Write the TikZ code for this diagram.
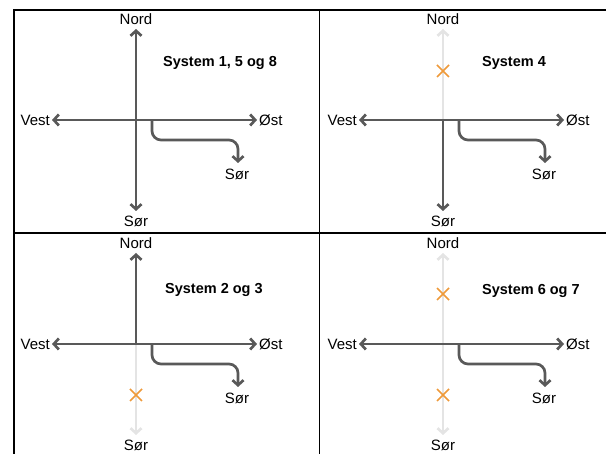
\documentclass[tikz,border=0pt]{standalone}
\usepackage{fontspec}
\setmainfont{Liberation Sans}
\usetikzlibrary{arrows.meta,calc}
\definecolor{axisdark}{HTML}{595959}
\definecolor{axislight}{HTML}{E4E4E4}
\definecolor{markorange}{HTML}{EE9A3A}
\tikzset{
  frameline/.style={line width=1.4pt, black},
  tipbarb/.tip={Straight Barb[length=5pt,width=11pt]},
  axisline/.style={line width=2.7pt, axisdark, tipbarb-tipbarb, line cap=butt},
  axisfaint/.style={line width=2.7pt, axislight},
  branchline/.style={line width=2.7pt, axisdark, rounded corners=9pt, -tipbarb},
  lbl/.style={font=\fontsize{15}{17}\selectfont, text=black, inner sep=0pt},
  ttl/.style={font=\fontsize{14.5}{16}\selectfont\bfseries, text=black, inner sep=0pt, anchor=west},
  xmark/.style={line width=1.5pt, markorange},
}
% one compass: #1 = name prefix
\newcommand\compassaxes[1]{%
  \coordinate (#1N) at (136,29);
  \coordinate (#1S) at (136,211);
  \coordinate (#1W) at (52,120);
  \coordinate (#1E) at (257,120);
  \coordinate (#1O) at (136,120);
  \coordinate (#1B) at (152,120);
  \coordinate (#1K) at (238,140);
  \coordinate (#1T) at (238,163);
  \node[lbl] (#1nord) at (136,19) {Nord};
  \node[lbl] (#1sor) at (136,221) {Sør};
  \node[lbl, anchor=east] (#1vest) at (50,120) {Vest};
  \node[lbl, anchor=west] (#1ost) at (259,120) {Øst};
  \node[lbl] (#1sorb) at (237,174) {Sør};
}
\newcommand\branch[1]{%
  \draw[branchline] (#1B) |- (#1K) -- (#1T);
}
\newcommand\xat[1]{%
  \draw[xmark] ($(#1)+(-6,-6)$) -- ($(#1)+(6,6)$) ($(#1)+(-6,6)$) -- ($(#1)+(6,-6)$);
}
\begin{document}
\begin{tikzpicture}[x=1pt,y=-1pt]
  \useasboundingbox (0,0) rectangle (606,454);
  % panel frame
  \draw[frameline] (14,454) -- (14,10) -- (606,10);
  \draw[frameline] (14,233) -- (606,233);
  \draw[frameline] (319.5,10) -- (319.5,454);

  % top left: System 1, 5 og 8
  \begin{scope}
    \compassaxes{a}
    \draw[axisline] (aN) -- (aS);
    \draw[axisline] (aW) -- (aE);
    \branch{a}
    \node[ttl] (atitle) at (163,63) {System 1, 5 og 8};
  \end{scope}

  % top right: System 4
  \begin{scope}[shift={(307,0)}]
    \compassaxes{b}
    \draw[axisfaint, -tipbarb] (bO) -- (bN);
    \draw[axisline, tipbarb-] (bS) -- (bO);
    \draw[axisline] (bW) -- (bE);
    \branch{b}
    \coordinate (bX1) at (136,71);
    \xat{bX1}
    \node[ttl] (btitle) at (175,63) {System 4};
  \end{scope}

  % bottom left: System 2 og 3
  \begin{scope}[shift={(0,224)}]
    \compassaxes{c}
    \draw[axisfaint, -tipbarb] (cO) -- (cS);
    \draw[axisline, tipbarb-] (cN) -- (cO);
    \draw[axisline] (cW) -- (cE);
    \branch{c}
    \coordinate (cX1) at (136,171);
    \xat{cX1}
    \node[ttl] (ctitle) at (165,66) {System 2 og 3};
  \end{scope}

  % bottom right: System 6 og 7
  \begin{scope}[shift={(307,224)}]
    \compassaxes{d}
    \draw[axisfaint, tipbarb-tipbarb] (dN) -- (dS);
    \draw[axisline] (dW) -- (dE);
    \branch{d}
    \coordinate (dX1) at (136,70);
    \coordinate (dX2) at (136,171);
    \xat{dX1}
    \xat{dX2}
    \node[ttl] (dtitle) at (175,67) {System 6 og 7};
  \end{scope}
\end{tikzpicture}
\end{document}
